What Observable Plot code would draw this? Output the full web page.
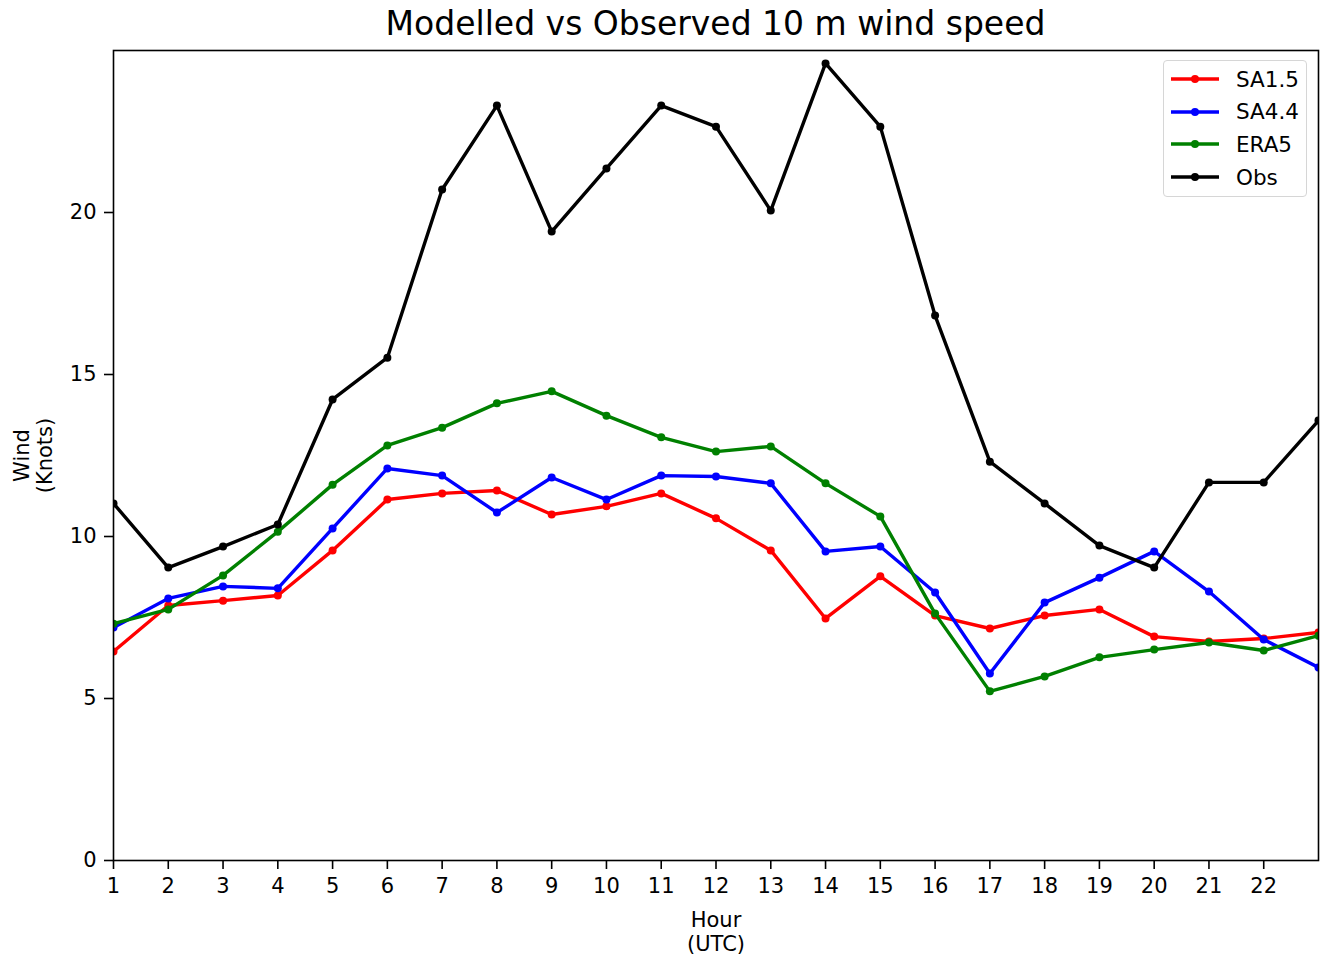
<!DOCTYPE html>
<html>
<head>
<meta charset="utf-8">
<script src="https://cdn.jsdelivr.net/npm/d3@7"></script>
<script src="https://cdn.jsdelivr.net/npm/@observablehq/plot@0.6"></script>
<style>
  body { margin: 0; background: white; font-family: "DejaVu Sans", sans-serif; }
  #wrap { position: relative; width: 1324px; height: 960px; }
  #title { position: absolute; left: 113px; width: 1205px; top: 2px; text-align: center; font-size: 33px; color: black; line-height: 44px; }
  #chart { position: absolute; left: 0; top: 49px; }
  #legend { position: absolute; left: 1163px; top: 60px; width: 142px; height: 135px; border: 1.5px solid #d6d6d6; border-radius: 4px; background: rgba(255,255,255,0.8); }
  .row { position: absolute; left: 6px; height: 30px; display: flex; align-items: center; font-size: 21.5px; color: black; }
  .row span { margin-left: 16px; }
</style>
</head>
<body>
<div id="wrap">
  <div id="title">Modelled vs Observed 10 m wind speed</div>
  <div id="chart"></div>
  <div id="legend"></div>
</div>
<script>
const hours = [1,2,3,4,5,6,7,8,9,10,11,12,13,14,15,16,17,18,19,20,21,22,23];
const xTicks = [1,2,3,4,5,6,7,8,9,10,11,12,13,14,15,16,17,18,19,20,21,22];
const yTicks = [0,5,10,15,20];
const seriesNames = ["SA1.5","SA4.4","ERA5","Obs"];
const seriesColors = ["#ff0000","#0000ff","#008000","#000000"];
const sa15 = [6.45,7.87,8.02,8.18,9.57,11.14,11.33,11.42,10.68,10.93,11.33,10.56,9.57,7.47,8.77,7.56,7.16,7.56,7.75,6.91,6.76,6.85,7.04];
const sa44 = [7.19,8.09,8.46,8.40,10.25,12.10,11.88,10.74,11.82,11.14,11.88,11.85,11.64,9.54,9.69,8.27,5.77,7.96,8.73,9.54,8.30,6.82,5.96];
const era5 = [7.31,7.75,8.80,10.15,11.60,12.81,13.36,14.11,14.48,13.73,13.06,12.62,12.78,11.64,10.62,7.62,5.22,5.68,6.27,6.51,6.73,6.48,6.94];
const obs  = [11.02,9.04,9.69,10.37,14.23,15.52,20.71,23.30,19.41,21.36,23.30,22.65,20.06,24.60,22.65,16.82,12.31,11.02,9.72,9.04,11.67,11.67,13.58];

const allValues = [sa15, sa44, era5, obs];
const rows = [];
allValues.forEach((vals, si) => {
  vals.forEach((v, i) => rows.push({series: seriesNames[si], hour: hours[i], value: v}));
});

const lineMarks = [];
seriesNames.forEach((name, si) => {
  const data = rows.filter(r => r.series === name);
  lineMarks.push(Plot.line(data, {x: "hour", y: "value", stroke: seriesColors[si], strokeWidth: 3.4, clip: true}));
  lineMarks.push(Plot.dot(data, {x: "hour", y: "value", fill: seriesColors[si], r: 4, clip: true}));
});

const chart = Plot.plot({
  width: 1324,
  height: 911,
  marginTop: 1,
  marginLeft: 113,
  marginRight: 6,
  marginBottom: 100,
  style: {fontFamily: "DejaVu Sans", fontSize: "21px", color: "black", background: "white"},
  x: {domain: [1, 23]},
  y: {domain: [0, 25]},
  marks: [
    ...lineMarks,
    Plot.frame({stroke: "black", strokeWidth: 1.6}),
    Plot.axisX({ticks: xTicks, tickSize: 9, tickPadding: 9, label: null, fontSize: 21, strokeWidth: 1.6, tickFormat: d => String(d)}),
    Plot.axisY({ticks: yTicks, tickSize: 9, tickPadding: 8, label: null, fontSize: 21, strokeWidth: 1.6}),
    Plot.text(["Wind\n(Knots)"], {frameAnchor: "left", rotate: -90, dx: -80, fontSize: 21, lineHeight: 1.1, textAnchor: "middle", lineAnchor: "middle"}),
    Plot.text(["Hour\n(UTC)"], {frameAnchor: "bottom", dy: 71, fontSize: 21, lineHeight: 1.13, textAnchor: "middle", lineAnchor: "middle"})
  ]
});
document.getElementById("chart").appendChild(chart);

const legend = document.getElementById("legend");
seriesNames.forEach((name, si) => {
  const row = document.createElement("div");
  row.className = "row";
  row.style.top = (3 + si * 32.7) + "px";
  row.innerHTML = `<svg width="50" height="10"><line x1="1" x2="49" y1="5" y2="5" stroke="${seriesColors[si]}" stroke-width="3.4"/><circle cx="25" cy="5" r="4" fill="${seriesColors[si]}"/></svg><span>${name}</span>`;
  legend.appendChild(row);
});
</script>
</body>
</html>
